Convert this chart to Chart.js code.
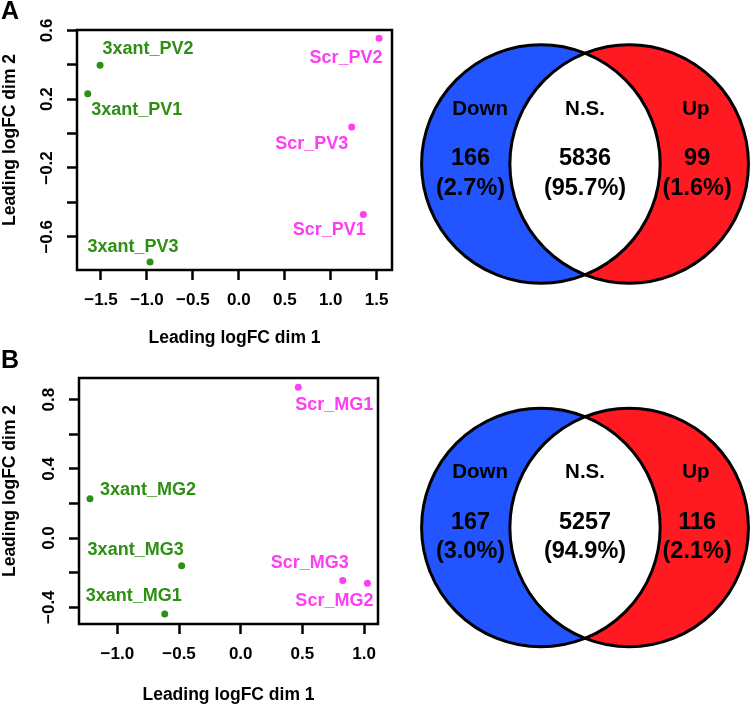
<!DOCTYPE html>
<html lang="en">
<head>
<meta charset="UTF-8">
<title>MDS plots and Venn diagrams</title>
<script src="https://cdn.jsdelivr.net/npm/chart.js"></script>
<style>
  body { margin: 0; background: #fff; }
  #wrap { position: relative; width: 750px; height: 704px; font-family: "Liberation Sans", Arial, sans-serif; }
  #wrap canvas { position: absolute; }
  .letter { position: absolute; left: 1px; font-weight: bold; font-size: 25px; line-height: 25px; color: #000; }
</style>
</head>
<body>
<div id="wrap">
  <canvas id="mdsA" width="400" height="352" style="left:0;top:0"></canvas>
  <canvas id="mdsB" width="400" height="352" style="left:0;top:352px"></canvas>
  <canvas id="vennA" width="350" height="352" style="left:400px;top:0"></canvas>
  <canvas id="vennB" width="350" height="352" style="left:400px;top:352px"></canvas>
  <div class="letter" style="top:-2px">A</div>
  <div class="letter" style="top:347px">B</div>
</div>
<script>
// panel A (PV samples)
const xantNamesA = ['3xant_PV1', '3xant_PV2', '3xant_PV3'];
const xantDim1A = [-1.644, -1.510, -0.966];
const xantDim2A = [0.232, 0.397, -0.746];
const scrNamesA = ['Scr_PV1', 'Scr_PV2', 'Scr_PV3'];
const scrDim1A = [1.355, 1.526, 1.228];
const scrDim2A = [-0.470, 0.554, 0.038];
const xTicksA = [-1.5, -1.0, -0.5, 0, 0.5, 1.0, 1.5];
const yTicksA = [-0.6, -0.4, -0.2, 0, 0.2, 0.4, 0.6];
const yLabelsA = [-0.6, -0.2, 0.2, 0.6];

// panel B (MG samples)
const xantNamesB = ['3xant_MG1', '3xant_MG2', '3xant_MG3'];
const xantDim1B = [-0.616, -1.222, -0.479];
const xantDim2B = [-0.439, 0.227, -0.160];
const scrNamesB = ['Scr_MG1', 'Scr_MG2', 'Scr_MG3'];
const scrDim1B = [0.467, 1.027, 0.827];
const scrDim2B = [0.871, -0.262, -0.245];
const xTicksB = [-1.0, -0.5, 0, 0.5, 1.0];
const yTicksB = [-0.4, -0.2, 0, 0.2, 0.4, 0.6, 0.8];
const yLabelsB = [-0.4, 0, 0.4, 0.8];

// venn counts
const vennGroups = ['Down', 'N.S.', 'Up'];
const vennCountsA = [166, 5836, 99];
const vennPctA = [2.7, 95.7, 1.6];
const vennCountsB = [167, 5257, 116];
const vennPctB = [3.0, 94.9, 2.1];

const FONT = '"Liberation Sans", Arial, Helvetica, sans-serif';
const GREEN = '#2f8f14';
const MAGENTA = '#ff3df5';

// label offsets in px from each point (label centre)
const xantOffA = [[49, 16], [48, -16], [-17, -15]];
const scrOffA = [[-34, 16], [-33, 20], [-40, 17]];
const xantOffB = [[-31, -18], [58, -9], [-46, -16]];
const scrOffB = [[36, 18], [-33, 18], [-33, -17]];

const fmt = v => v.toFixed(1).replace('-', '\u2212');

function mdsChart(id, d) {
  const decor = {
    id: 'decor',
    afterDatasetsDraw(chart) {
      const ctx = chart.ctx;
      const a = chart.chartArea;
      ctx.save();
      // sample labels
      ctx.font = 'bold 18px ' + FONT;
      ctx.textAlign = 'center';
      ctx.textBaseline = 'middle';
      chart.data.datasets.forEach((ds, di) => {
        const meta = chart.getDatasetMeta(di);
        ctx.fillStyle = ds.backgroundColor;
        meta.data.forEach((pt, i) => {
          ctx.fillText(ds.names[i], pt.x + ds.offsets[i][0], pt.y + ds.offsets[i][1]);
        });
      });
      // box
      ctx.strokeStyle = '#000';
      ctx.lineWidth = 2.5;
      ctx.strokeRect(a.left, a.top, a.right - a.left, a.bottom - a.top);
      // rotated y tick labels
      ctx.fillStyle = '#000';
      ctx.font = 'bold 17px ' + FONT;
      const ys = chart.scales.y;
      d.yLabels.forEach(v => {
        ctx.save();
        ctx.translate(a.left - 30, ys.getPixelForValue(v));
        ctx.rotate(-Math.PI / 2);
        ctx.fillText(fmt(v), 0, 0);
        ctx.restore();
      });
      // y title
      ctx.font = 'bold 17.5px ' + FONT;
      ctx.save();
      ctx.translate(10, (a.top + a.bottom) / 2 - 10);
      ctx.rotate(-Math.PI / 2);
      ctx.fillText('Leading logFC dim 2', 0, 0);
      ctx.restore();
      ctx.restore();
    }
  };

  new Chart(document.getElementById(id), {
    type: 'scatter',
    data: {
      datasets: [
        { data: d.gx.map((x, i) => ({ x: x, y: d.gy[i] })), names: d.gNames, offsets: d.gOff,
          backgroundColor: GREEN, borderColor: GREEN, pointRadius: 3.5, borderWidth: 0 },
        { data: d.mx.map((x, i) => ({ x: x, y: d.my[i] })), names: d.mNames, offsets: d.mOff,
          backgroundColor: MAGENTA, borderColor: MAGENTA, pointRadius: 3.5, borderWidth: 0 }
      ]
    },
    options: {
      responsive: false,
      animation: false,
      events: [],
      layout: { padding: d.pad },
      plugins: { legend: { display: false }, tooltip: { enabled: false } },
      scales: {
        x: {
          min: d.xMin, max: d.xMax,
          afterBuildTicks: s => { s.ticks = d.xTicks.map(v => ({ value: v })); },
          afterFit: s => { s.height = d.xH; },
          border: { display: false },
          grid: { drawOnChartArea: false, drawTicks: true, tickLength: 10, tickWidth: 2.5, tickColor: '#000', color: '#000' },
          ticks: { color: '#000', padding: 10, maxRotation: 0, autoSkip: false,
                   font: { family: FONT, size: 17, weight: 'bold', lineHeight: 1.2 },
                   callback: v => fmt(v) },
          title: { display: true, text: 'Leading logFC dim 1', color: '#000',
                   font: { family: FONT, size: 17.5, weight: 'bold', lineHeight: 1 },
                   padding: { top: 0, bottom: d.titlePad } }
        },
        y: {
          min: d.yMin, max: d.yMax,
          afterBuildTicks: s => { s.ticks = d.yTicks.map(v => ({ value: v })); },
          afterFit: s => { s.width = d.yW; },
          border: { display: false },
          grid: { drawOnChartArea: false, drawTicks: true, tickLength: 10, tickWidth: 2.5, tickColor: '#000', color: '#000' },
          ticks: { display: false, autoSkip: false }
        }
      }
    },
    plugins: [decor]
  });
}

mdsChart('mdsA', {
  gNames: xantNamesA, gx: xantDim1A, gy: xantDim2A, gOff: xantOffA,
  mNames: scrNamesA, mx: scrDim1A, my: scrDim2A, mOff: scrOffA,
  xTicks: xTicksA, yTicks: yTicksA, yLabels: yLabelsA,
  xMin: -1.761, xMax: 1.667, yMin: -0.793, yMax: 0.602,
  pad: { left: 0, top: 30, right: 8, bottom: 0 }, xH: 82, yW: 77, titlePad: 5.25
});

mdsChart('mdsB', {
  gNames: xantNamesB, gx: xantDim1B, gy: xantDim2B, gOff: xantOffB,
  mNames: scrNamesB, mx: scrDim1B, my: scrDim2B, mOff: scrOffB,
  xTicks: xTicksB, yTicks: yTicksB, yLabels: yLabelsB,
  xMin: -1.311, xMax: 1.113, yMin: -0.497, yMax: 0.925,
  pad: { left: 0, top: 26, right: 22, bottom: 0 }, xH: 80, yW: 79, titlePad: 0.25
});

// venn: two unit circles, centres at +-halfGap
const halfGap = 0.37;
const groupX = [-0.88, 0, 0.93];
const countX = [-0.96, 0, 0.94];

function vennChart(id, counts, pct, yMin, yMax) {
  const venn = {
    id: 'venn',
    afterDraw(chart) {
      const ctx = chart.ctx;
      const xs = chart.scales.x, ys = chart.scales.y;
      const c1 = xs.getPixelForValue(-halfGap), c2 = xs.getPixelForValue(halfGap);
      const cy = ys.getPixelForValue(0);
      const r = xs.getPixelForValue(1) - xs.getPixelForValue(0);
      const circle = cx => { ctx.beginPath(); ctx.arc(cx, cy, r, 0, Math.PI * 2); };
      ctx.save();
      circle(c1); ctx.fillStyle = '#2255ff'; ctx.fill();
      circle(c2); ctx.fillStyle = '#ff1a22'; ctx.fill();
      ctx.save();
      circle(c1); ctx.clip();
      circle(c2); ctx.fillStyle = '#fff'; ctx.fill();
      ctx.restore();
      ctx.strokeStyle = '#000';
      ctx.lineWidth = 3;
      circle(c1); ctx.stroke();
      circle(c2); ctx.stroke();

      ctx.fillStyle = '#000';
      ctx.textAlign = 'center';
      ctx.textBaseline = 'middle';
      vennGroups.forEach((g, i) => {
        ctx.font = 'bold 20.5px ' + FONT;
        ctx.fillText(g, xs.getPixelForValue(groupX[i]), ys.getPixelForValue(0.46));
        const x = xs.getPixelForValue(countX[i]);
        ctx.font = 'bold 23.5px ' + FONT;
        ctx.fillText(String(counts[i]), x, ys.getPixelForValue(0.045));
        ctx.fillText('(' + pct[i].toFixed(1) + '%)', x, ys.getPixelForValue(-0.205));
      });
      ctx.restore();
    }
  };

  new Chart(document.getElementById(id), {
    type: 'scatter',
    data: { datasets: [] },
    options: {
      responsive: false,
      animation: false,
      events: [],
      layout: { padding: 0 },
      plugins: { legend: { display: false }, tooltip: { enabled: false } },
      scales: {
        x: { display: false, min: -1.551, max: 1.383 },
        y: { display: false, min: yMin, max: yMax }
      }
    },
    plugins: [venn]
  });
}

vennChart('vennA', vennCountsA, vennPctA, -1.576, 1.375);
vennChart('vennB', vennCountsB, vennPctB, -1.479, 1.471);
</script>
</body>
</html>
